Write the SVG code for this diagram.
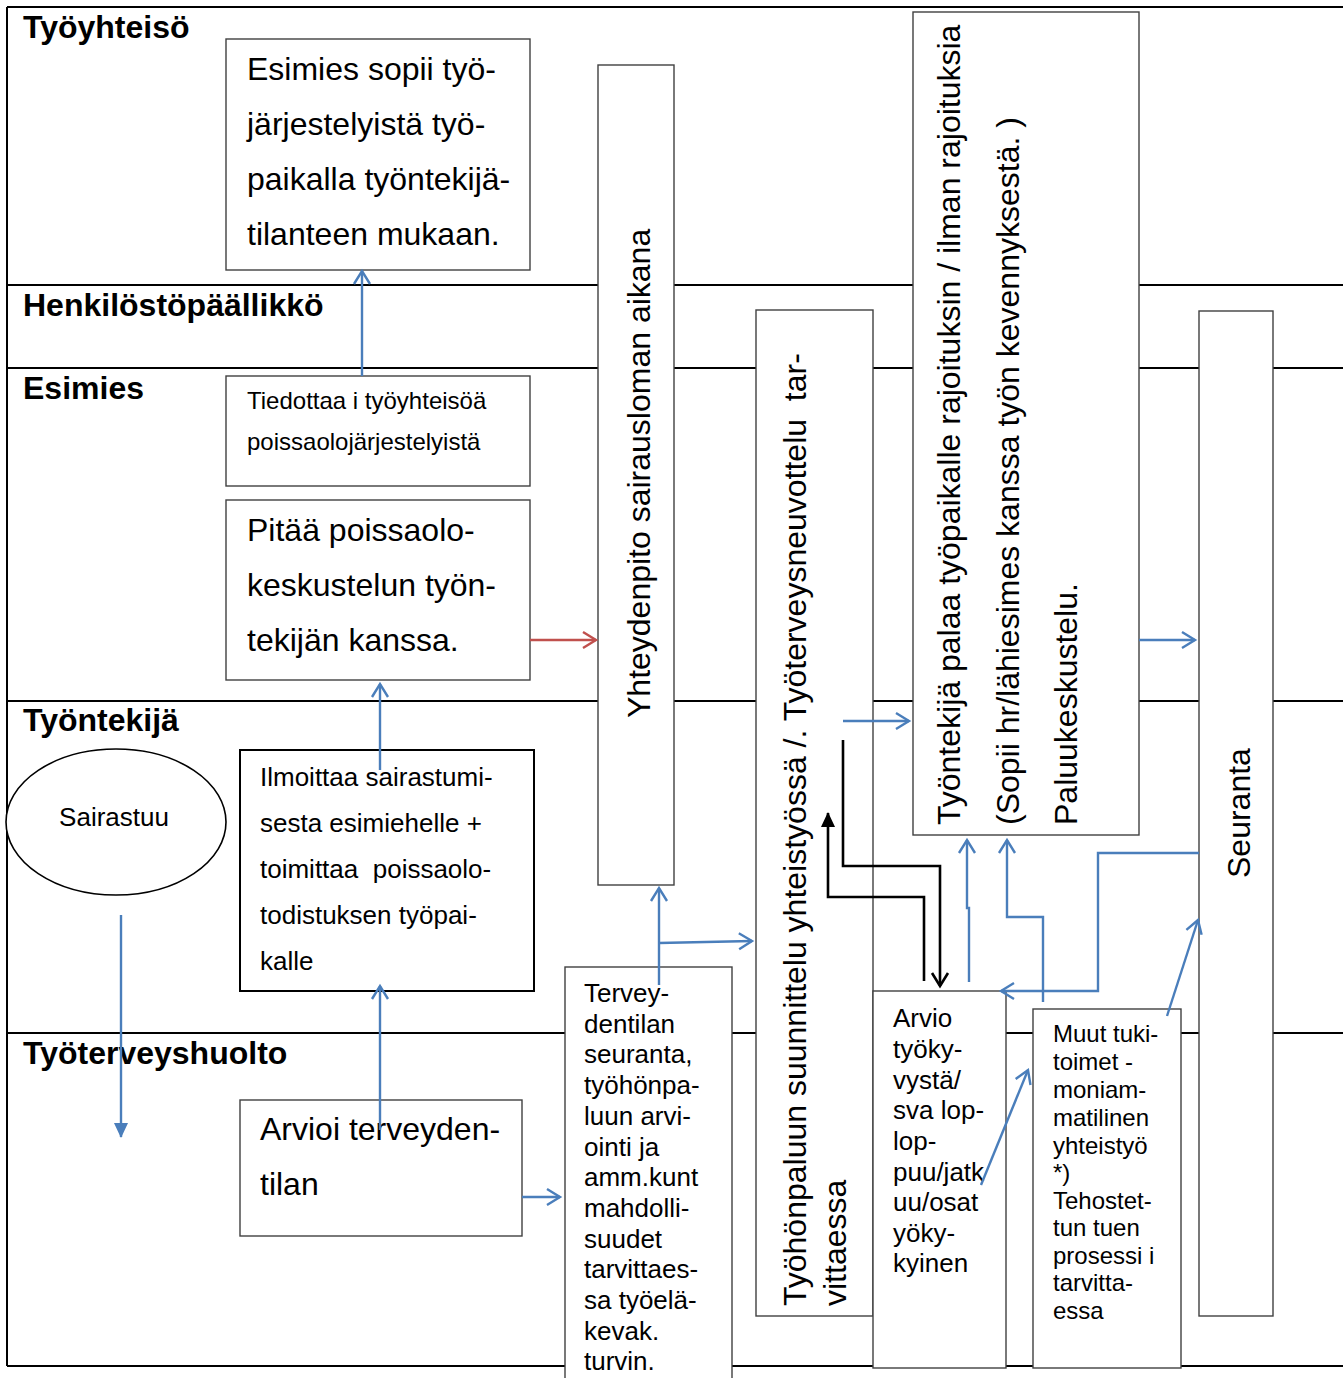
<svg xmlns="http://www.w3.org/2000/svg" width="1343" height="1378" viewBox="0 0 1343 1378">
<style>
text{font-family:"Liberation Sans",Arial,sans-serif;fill:#000}
.lane{font-weight:bold;font-size:32px}
.box{fill:#fff;stroke:#404040;stroke-width:1.4}
.lines line,.lines path{stroke:#000;stroke-width:2;fill:none}
.blue{stroke:#4a7ebb;stroke-width:2.4;fill:none}
.red{stroke:#c0504d;stroke-width:2.4;fill:none}
.black{stroke:#000;stroke-width:2.6;fill:none}
.f32{font-size:32px}.f26{font-size:26px}.f24{font-size:24px}
</style>
<defs>
<marker id="ob" markerUnits="userSpaceOnUse" markerWidth="16" markerHeight="20" refX="13" refY="8" orient="auto" overflow="visible"><path d="M0,0 L13,8 L0,16" fill="none" stroke="#4a7ebb" stroke-width="2.4"/></marker>
<marker id="or" markerUnits="userSpaceOnUse" markerWidth="16" markerHeight="20" refX="13" refY="8" orient="auto" overflow="visible"><path d="M0,0 L13,8 L0,16" fill="none" stroke="#c0504d" stroke-width="2.4"/></marker>
<marker id="ok" markerUnits="userSpaceOnUse" markerWidth="16" markerHeight="20" refX="13" refY="8" orient="auto" overflow="visible"><path d="M0,0 L13,8 L0,16" fill="none" stroke="#000" stroke-width="2.6"/></marker>
<marker id="fk" markerUnits="userSpaceOnUse" markerWidth="16" markerHeight="16" refX="14" refY="7" orient="auto" overflow="visible"><path d="M0,0 L15,7 L0,14 Z" fill="#000"/></marker>
<marker id="fb" markerUnits="userSpaceOnUse" markerWidth="16" markerHeight="16" refX="14" refY="7" orient="auto" overflow="visible"><path d="M0,0 L15,7 L0,14 Z" fill="#4a7ebb"/></marker>
</defs>
<rect width="1343" height="1378" fill="#fff"/>
<g id="lanes" class="lines">
<line x1="7" y1="7" x2="1343" y2="7" stroke-width="2.5"/>
<line x1="7" y1="7" x2="7" y2="1366"/>
<line x1="7" y1="285" x2="1343" y2="285"/>
<line x1="7" y1="368" x2="1343" y2="368"/>
<line x1="7" y1="701" x2="1343" y2="701"/>
<line x1="7" y1="1033" x2="1343" y2="1033"/>
<line x1="7" y1="1366" x2="1343" y2="1366"/>
</g>
<g id="lane-labels">
<text class="lane" x="23" y="38">Työyhteisö</text>
<text class="lane" x="23" y="316">Henkilöstöpäällikkö</text>
<text class="lane" x="23" y="399">Esimies</text>
<text class="lane" x="23" y="731">Työntekijä</text>
<text class="lane" x="23" y="1064">Työterveyshuolto</text>
</g>
<g id="n-esimies-sopii">
<rect class="box" x="226" y="39" width="304" height="231"/>
<text class="f32" x="247" y="80">Esimies sopii työ-</text>
<text class="f32" x="247" y="135">järjestelyistä työ-</text>
<text class="f32" x="247" y="190">paikalla työntekijä-</text>
<text class="f32" x="247" y="245">tilanteen mukaan.</text>
</g>
<g id="n-tiedottaa">
<rect class="box" x="226" y="376" width="304" height="110"/>
<text class="f24" x="247" y="409">Tiedottaa i työyhteisöä</text>
<text class="f24" x="247" y="450">poissaolojärjestelyistä</text>
</g>
<g id="n-pitaa">
<rect class="box" x="226" y="500" width="304" height="180"/>
<text class="f32" x="247" y="541">Pitää poissaolo-</text>
<text class="f32" x="247" y="596">keskustelun työn-</text>
<text class="f32" x="247" y="651">tekijän kanssa.</text>
</g>
<g id="n-sairastuu">
<ellipse cx="116" cy="822" rx="110" ry="73" fill="#fff" stroke="#000" stroke-width="1.6"/>
<text class="f26" x="114" y="826" text-anchor="middle">Sairastuu</text>
</g>
<g id="n-ilmoittaa">
<rect x="240" y="750" width="294" height="241" fill="#fff" stroke="#000" stroke-width="2"/>
<text class="f26" x="260" y="786">Ilmoittaa sairastumi-</text>
<text class="f26" x="260" y="832">sesta esimiehelle +</text>
<text class="f26" x="260" y="878" xml:space="preserve">toimittaa  poissaolo-</text>
<text class="f26" x="260" y="924">todistuksen työpai-</text>
<text class="f26" x="260" y="970">kalle</text>
</g>
<g id="n-arvioi">
<rect class="box" x="240" y="1100" width="282" height="136"/>
<text class="f32" x="260" y="1140">Arvioi terveyden-</text>
<text class="f32" x="260" y="1195">tilan</text>
</g>
<g id="n-yhteydenpito">
<rect class="box" x="598" y="65" width="76" height="820"/>
<text class="f32" transform="translate(650,718) rotate(-90)">Yhteydenpito sairausloman aikana</text>
</g>
<g id="n-tyohonpaluu">
<rect class="box" x="756" y="310" width="117" height="1006"/>
<text class="f32" transform="translate(806,1306) rotate(-90)" xml:space="preserve">Työhönpaluun suunnittelu yhteistyössä /. Työterveysneuvottelu  tar-</text>
<text class="f32" transform="translate(846,1306) rotate(-90)">vittaessa</text>
</g>
<g id="n-palaa">
<rect class="box" x="913" y="12" width="226" height="823"/>
<text class="f32" transform="translate(960,825) rotate(-90)">Työntekijä palaa työpaikalle rajoituksin / ilman rajoituksia</text>
<text class="f32" transform="translate(1019,825) rotate(-90)">(Sopii hr/lähiesimes kanssa työn kevennyksestä. )</text>
<text class="f32" transform="translate(1077,825) rotate(-90)">Paluukeskustelu.</text>
</g>
<g id="n-seuranta">
<rect class="box" x="1199" y="311" width="74" height="1005"/>
<text class="f32" transform="translate(1250,878) rotate(-90)">Seuranta</text>
</g>
<g id="n-tervey">
<rect class="box" x="565" y="967" width="167" height="420"/>
<text class="f26" x="584" y="1002">Tervey-</text>
<text class="f26" x="584" y="1033">dentilan</text>
<text class="f26" x="584" y="1063">seuranta,</text>
<text class="f26" x="584" y="1094">työhönpa-</text>
<text class="f26" x="584" y="1125">luun arvi-</text>
<text class="f26" x="584" y="1156">ointi ja</text>
<text class="f26" x="584" y="1186">amm.kunt</text>
<text class="f26" x="584" y="1217">mahdolli-</text>
<text class="f26" x="584" y="1248">suudet</text>
<text class="f26" x="584" y="1278">tarvittaes-</text>
<text class="f26" x="584" y="1309">sa työelä-</text>
<text class="f26" x="584" y="1340">kevak.</text>
<text class="f26" x="584" y="1370">turvin.</text>
</g>
<g id="n-arvio">
<rect class="box" x="873" y="991" width="133" height="377"/>
<text class="f26" x="893" y="1027">Arvio</text>
<text class="f26" x="893" y="1058">työky-</text>
<text class="f26" x="893" y="1089">vystä/</text>
<text class="f26" x="893" y="1119">sva lop-</text>
<text class="f26" x="893" y="1150">lop-</text>
<text class="f26" x="893" y="1181">puu/jatk</text>
<text class="f26" x="893" y="1211">uu/osat</text>
<text class="f26" x="893" y="1242">yöky-</text>
<text class="f26" x="893" y="1272">kyinen</text>
</g>
<g id="n-muut">
<rect class="box" x="1033" y="1009" width="148" height="359"/>
<text class="f24" x="1053" y="1042">Muut tuki-</text>
<text class="f24" x="1053" y="1070">toimet -</text>
<text class="f24" x="1053" y="1098">moniam-</text>
<text class="f24" x="1053" y="1126">matilinen</text>
<text class="f24" x="1053" y="1154">yhteistyö</text>
<text class="f24" x="1053" y="1181">*)</text>
<text class="f24" x="1053" y="1209">Tehostet-</text>
<text class="f24" x="1053" y="1236">tun tuen</text>
<text class="f24" x="1053" y="1264">prosessi i</text>
<text class="f24" x="1053" y="1291">tarvitta-</text>
<text class="f24" x="1053" y="1319">essa</text>
</g>
<g id="connectors">
<path class="blue" d="M362,376 L362,271" marker-end="url(#ob)"/>
<path class="blue" d="M380,770 L380,684" marker-end="url(#ob)"/>
<path class="blue" d="M380,1130 L380,986" marker-end="url(#ob)"/>
<path class="red" d="M530,640 L596,640" marker-end="url(#or)"/>
<path class="blue" d="M659,985 L659,888" marker-end="url(#ob)"/>
<path class="blue" d="M659,943 L752,941" marker-end="url(#ob)"/>
<path class="blue" d="M522,1197 L560,1197" marker-end="url(#ob)"/>
<path class="blue" d="M843,721 L909,721" marker-end="url(#ob)"/>
<path class="blue" d="M1139,640 L1195,640" marker-end="url(#ob)"/>
<path class="blue" d="M121,915 L121,1137" marker-end="url(#fb)"/>
<path class="blue" d="M969,982 L969,908 L967,908 L967,840" marker-end="url(#ob)"/>
<path class="blue" d="M1043,1002 L1043,917 L1007,917 L1007,840" marker-end="url(#ob)"/>
<path class="blue" d="M1199,853 L1098,853 L1098,991 L1001,991" marker-end="url(#ob)"/>
<path class="blue" d="M1167,1016 L1198,920" marker-end="url(#ob)"/>
<path class="blue" d="M981,1185 L1028,1070" marker-end="url(#ob)"/>
<path class="black" d="M843,740 L843,866 L940,866 L940,986" marker-end="url(#ok)"/>
<path class="black" d="M924,981 L924,897 L828,897 L828,813" marker-end="url(#fk)"/>
</g>
</svg>
